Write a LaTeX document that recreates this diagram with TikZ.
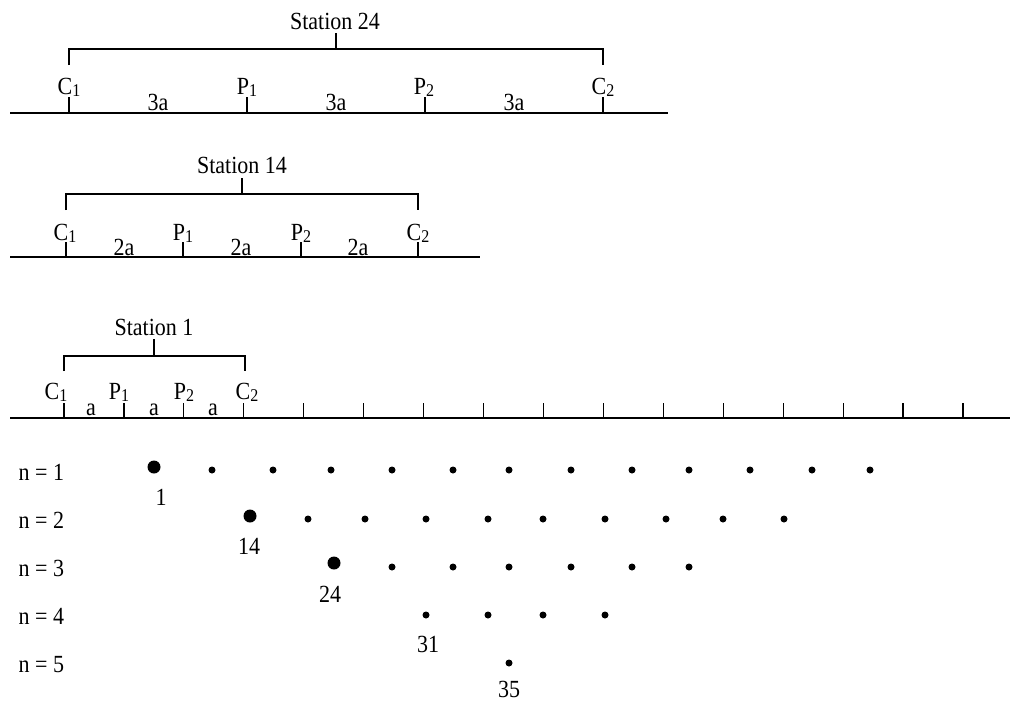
\documentclass[tikz,border=0pt]{standalone}
\usepackage{fontspec}
\usepackage{graphicx}
\setmainfont{Liberation Serif}
% text is set slightly taller than the font's natural shape
\newcommand{\tx}[1]{\scalebox{1}[1.12]{#1}}
\newcommand{\sub}[1]{\raisebox{-2pt}{\fontsize{16}{18}\selectfont #1}}
\begin{document}
\begin{tikzpicture}[x=1pt,y=-1pt,line width=1.2pt,
  lbl/.style={inner sep=0pt,anchor=base,font=\fontsize{22}{26}\selectfont},
  rowlbl/.style={inner sep=0pt,anchor=base west,font=\fontsize{22}{26}\selectfont},
  bigdot/.style={circle,fill=black,inner sep=0pt,minimum size=13pt},
  smalldot/.style={circle,fill=black,inner sep=0pt,minimum size=7pt}]
\useasboundingbox (0,0) rectangle (1012,702);

% ---------- Station 24 ----------
\coordinate (aL) at (10,113); \coordinate (aR) at (668,113);
\draw (aL) -- (aR);
\foreach \n/\x in {c1/69,p1/247,p2/425,c2/603}{
  \coordinate (a\n) at (\x,113); \coordinate (a\n t) at (\x,97);
  \draw (a\n) -- (a\n t);}
\coordinate (ab1) at (69,65); \coordinate (ab2) at (603,65);
\coordinate (abm) at (336,49); \coordinate (abs) at (336,33);
\draw (ab1) |- (abm) -| (ab2);
\draw (abm) -- (abs);
\node[lbl] (aT) at (335,29.5) {\tx{Station 24}};
\node[lbl] (aC1) at (69,94) {\tx{C\sub{1}}};
\node[lbl] (aP1) at (247,94) {\tx{P\sub{1}}};
\node[lbl] (aP2) at (424,94) {\tx{P\sub{2}}};
\node[lbl] (aC2) at (603,94) {\tx{C\sub{2}}};
\node[lbl] (as1) at (158,110) {\tx{3a}};
\node[lbl] (as2) at (336,110) {\tx{3a}};
\node[lbl] (as3) at (514,110) {\tx{3a}};

% ---------- Station 14 ----------
\coordinate (bL) at (10,257); \coordinate (bR) at (480,257);
\draw (bL) -- (bR);
\foreach \n/\x in {c1/66,p1/183,p2/301,c2/418}{
  \coordinate (b\n) at (\x,257); \coordinate (b\n t) at (\x,242);
  \draw (b\n) -- (b\n t);}
\coordinate (bb1) at (66,210); \coordinate (bb2) at (418,210);
\coordinate (bbm) at (242,194); \coordinate (bbs) at (242,178);
\draw (bb1) |- (bbm) -| (bb2);
\draw (bbm) -- (bbs);
\node[lbl] (bT) at (242,173) {\tx{Station 14}};
\node[lbl] (bC1) at (65,240) {\tx{C\sub{1}}};
\node[lbl] (bP1) at (183,240) {\tx{P\sub{1}}};
\node[lbl] (bP2) at (301,240) {\tx{P\sub{2}}};
\node[lbl] (bC2) at (418,240) {\tx{C\sub{2}}};
\node[lbl] (bs1) at (124,255) {\tx{2a}};
\node[lbl] (bs2) at (241,255) {\tx{2a}};
\node[lbl] (bs3) at (358,255) {\tx{2a}};

% ---------- Station 1 and the full line ----------
\coordinate (cL) at (10,418); \coordinate (cR) at (1010,418);
\draw (cL) -- (cR);
\foreach \k in {0,...,15}{
  \coordinate (ct\k) at ({64+59.93*\k},418);
  \coordinate (ct\k t) at ({64+59.93*\k},403);
  \draw (ct\k) -- (ct\k t);}
\coordinate (cb1) at (64,371); \coordinate (cb2) at (245,371);
\coordinate (cbm) at (154,356); \coordinate (cbs) at (154,339);
\draw (cb1) |- (cbm) -| (cb2);
\draw (cbm) -- (cbs);
\node[lbl] (cT) at (154,335.5) {\tx{Station 1}};
\node[lbl] (cC1) at (56,399) {\tx{C\sub{1}}};
\node[lbl] (cP1) at (119,399) {\tx{P\sub{1}}};
\node[lbl] (cP2) at (184,399) {\tx{P\sub{2}}};
\node[lbl] (cC2) at (247,399) {\tx{C\sub{2}}};
\node[lbl] (cs1) at (91,415) {\tx{a}};
\node[lbl] (cs2) at (154,415) {\tx{a}};
\node[lbl] (cs3) at (213,415) {\tx{a}};

% ---------- rows of stations ----------
\node[rowlbl] (n1) at (18,480) {\tx{n = 1}};
\node[rowlbl] (n2) at (18,528) {\tx{n = 2}};
\node[rowlbl] (n3) at (18,576) {\tx{n = 3}};
\node[rowlbl] (n4) at (18,624) {\tx{n = 4}};
\node[rowlbl] (n5) at (18,672) {\tx{n = 5}};

\node[bigdot] (r1b) at (154,467) {};
\foreach \x [count=\i] in {212,273,331,392,453,509,571,632,689,750,812,870}
  \node[smalldot] (r1s\i) at (\x,470) {};
\node[bigdot] (r2b) at (250,516) {};
\foreach \x [count=\i] in {308,365,426,488,543,605,666,723,784}
  \node[smalldot] (r2s\i) at (\x,519) {};
\node[bigdot] (r3b) at (334,563) {};
\foreach \x [count=\i] in {392,453,509,571,632,689}
  \node[smalldot] (r3s\i) at (\x,567) {};
\foreach \x [count=\i] in {426,488,543,605}
  \node[smalldot] (r4s\i) at (\x,615) {};
\node[smalldot] (r5s1) at (509,663) {};

\node[lbl] (k1) at (161,505) {\tx{1}};
\node[lbl] (k14) at (249,554) {\tx{14}};
\node[lbl] (k24) at (330,602) {\tx{24}};
\node[lbl] (k31) at (428,652) {\tx{31}};
\node[lbl] (k35) at (509,697.5) {\tx{35}};
\end{tikzpicture}
\end{document}
